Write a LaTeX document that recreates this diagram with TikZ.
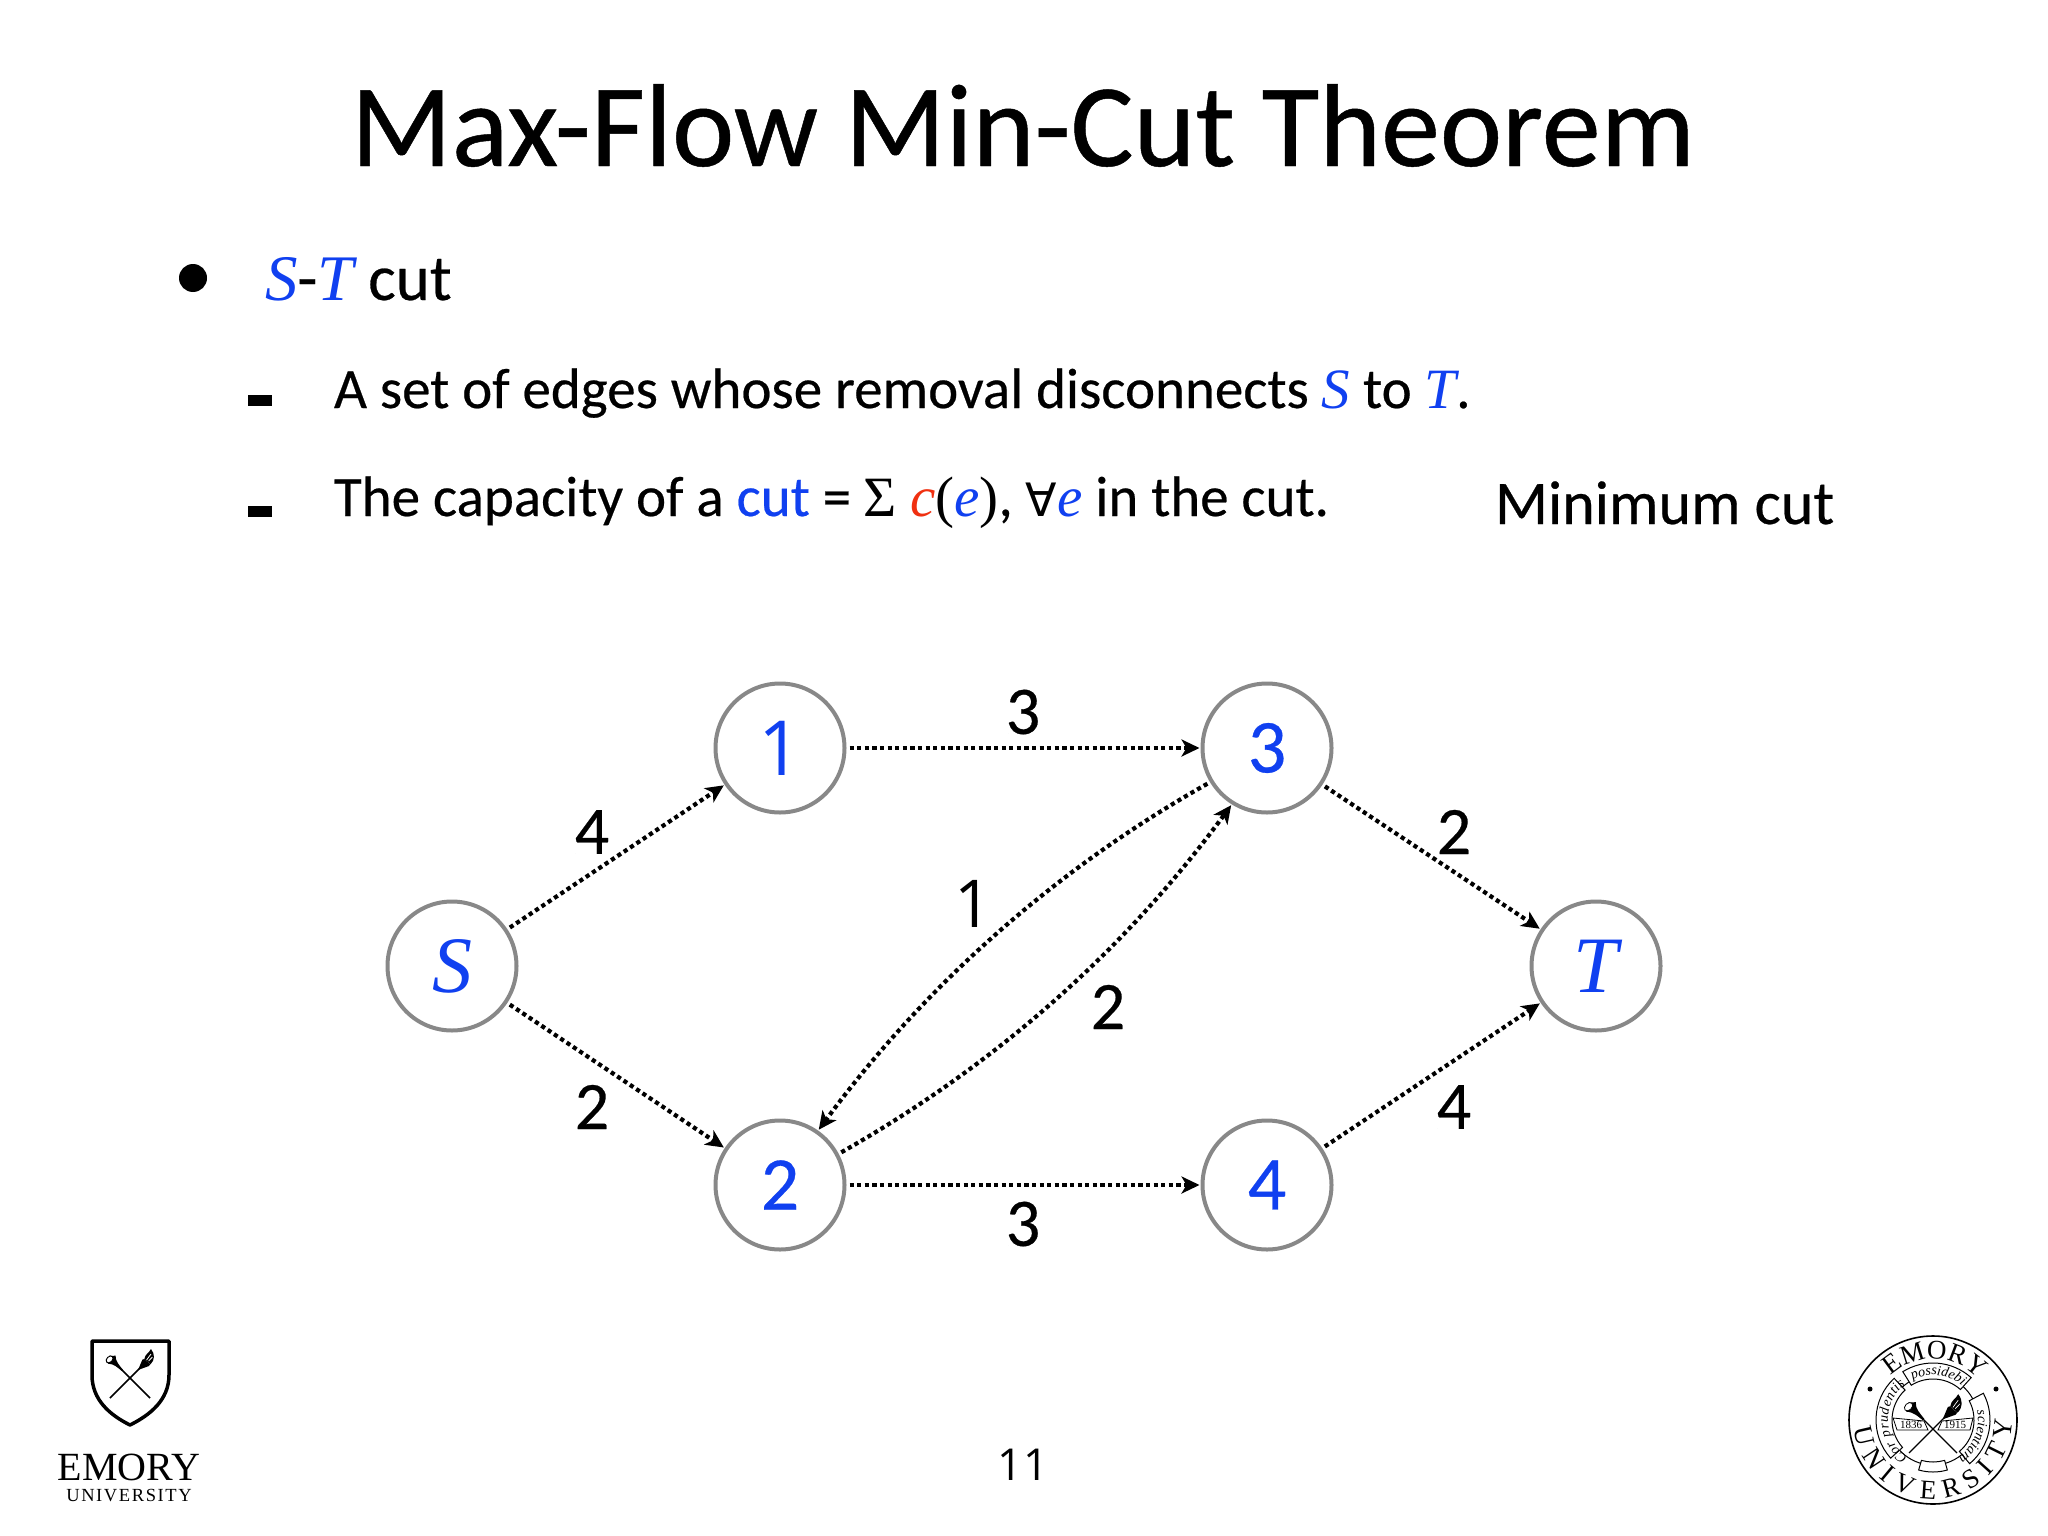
\documentclass[tikz,border=0pt]{standalone}
\usepackage{fontspec}
\usetikzlibrary{arrows.meta,decorations.text}
\setmainfont[FakeBold=0.4]{Carlito}
\newfontfamily\timesfont{Liberation Serif}
\newfontfamily\symfont{DejaVu Sans}
\newfontfamily\onefont{Open Sans}
\definecolor{kblue}{HTML}{1040F0}
\definecolor{kred}{HTML}{F03010}
\definecolor{kgrey}{HTML}{888888}
\newcommand{\fsz}[1]{\fontsize{#1}{#1}\selectfont}
\newcommand{\bi}[1]{{\timesfont\itshape\textcolor{kblue}{#1}}}
\newcommand{\crossedtools}{%
  % trumpet
  \draw[line width=\stemw] (-0.45,0.45) -- (1,-1);
  \fill (-1.02,1.12) .. controls (-1.0,0.95) and (-0.95,0.8) .. (-1.12,0.72)
        .. controls (-0.8,0.72) and (-0.6,0.5) .. (-0.42,0.36)
        -- (-0.36,0.42) .. controls (-0.5,0.6) and (-0.75,0.85) .. (-0.72,1.12)
        .. controls (-0.85,1.1) and (-0.95,1.1) .. cycle;
  \draw[fill=white,line width=\stemw*0.6] (-1.02,0.93) ellipse[x radius=0.14,y radius=0.2,rotate=-45];
  % torch
  \draw[line width=\stemw] (0.5,0.5) -- (-1,-1);
  \fill (0.72,0.95) -- (1.0,0.68) -- (0.95,0.6) -- (0.45,0.42) -- (0.42,0.45) -- (0.62,0.92) -- cycle;
  \fill (0.72,0.95) .. controls (0.75,1.2) and (0.95,1.25) .. (1.05,1.45)
        .. controls (1.25,1.2) and (1.25,0.9) .. (1.02,0.68) -- cycle;
  \draw[white,line width=\stemw*0.5] (0.83,0.9) -- (1.05,1.2) (0.93,0.85) -- (1.12,1.05);
}
\begin{document}
\begin{tikzpicture}[x=1pt,y=-1pt,
  plain/.style={inner sep=0pt,outer sep=0pt},
  vertex/.style={circle,draw=kgrey,line width=4pt,minimum size=129pt,inner sep=0pt,fill=white,font=\fsz{76},text=kblue},
  link/.style={line width=4.2pt,dash pattern=on 4.2pt off 3.4pt,shorten <=3pt,shorten >=1pt,
     -{Stealth[length=18pt,width=17pt,inset=5pt]}},
  weight/.style={plain,font=\fsz{68}},
  bodytext/.style={plain,anchor=base west,font=\fsz{57}},
]
\useasboundingbox (0,0) rectangle (2048,1536);
\fill[white] (0,0) rectangle (2048,1536);

% texts
\node[plain,anchor=base,font=\fsz{118}] (title) at (1023,166) {Max-Flow Min-Cut Theorem};
\fill (193,278) circle[radius=14];
\node[plain,anchor=base west,font=\fsz{65}] (l0) at (265,300) {\bi{S}-\bi{T} cut};
\fill (248,395) rectangle (272,406);
\node[bodytext] (l1) at (334,408) {A set of edges whose removal disconnects \bi{S} to \bi{T}.};
\fill (248,506) rectangle (272,517);
\node[bodytext] (l2) at (334,516) {The capacity of a \textcolor{kblue}{cut} = {\timesfont Σ} {\timesfont{\itshape\textcolor{kred}{c}}(\textcolor{kblue}{\itshape e})}, {\symfont\fsz{46}∀}\bi{e} in the cut.};
\node[plain,anchor=base west,font=\fsz{62}] (mc) at (1495,524) {Minimum cut};
\node[plain,anchor=base,font=\onefont\fsz{44}] (pg) at (1023,1480) {11};

% graph
\node[vertex,font=\timesfont\itshape\fsz{80}] (S) at (452,966) {S};
\node[vertex,font=\onefont\fsz{76}] (n1) at (780,748) {1};
\node[vertex] (n3) at (1267,748) {3};
\node[vertex,font=\timesfont\itshape\fsz{80}] (T) at (1596,966) {T};
\node[vertex] (n2) at (780,1185) {2};
\node[vertex] (n4) at (1267,1185) {4};

\draw[link] (S) -- (n1);
\draw[link] (S) -- (n2);
\draw[link] (n1) -- (n3);
\draw[link] (n2) -- (n4);
\draw[link] (n3) -- (T);
\draw[link] (n4) -- (T);
\draw[link] (n3.211) .. controls (1056,869) and (925,985) .. (n2.55);
\draw[link] (n2.28) .. controls (997,1064) and (1126,949) .. (n3.238);

\node[weight] (c13) at (1023,712) {3};
\node[weight] (cs1) at (592,832) {4};
\node[weight] (cs2) at (592,1107) {2};
\node[weight,font=\onefont\fsz{66}] (c32) at (973,904) {1};
\node[weight] (c23) at (1108,1007) {2};
\node[weight] (c3t) at (1454,832) {2};
\node[weight] (c4t) at (1454,1107) {4};
\node[weight] (c24) at (1023,1224) {3};

% shield logo
\draw[line width=3.5pt,line join=round,fill=white] (92,1341) -- (169,1341) -- (169,1375)
   .. controls (169,1400) and (150,1415) .. (130,1425)
   .. controls (110,1415) and (92,1400) .. (92,1375) -- cycle;
\begin{scope}[shift={(130,1378)},x=20pt,y=20pt]
  \def\stemw{1.6pt}
  \crossedtools
\end{scope}
\node[plain,anchor=base,font=\timesfont\fsz{40}] (em) at (129,1480) {EMORY};
\node[plain,anchor=base,font=\timesfont\fsz{18.5}] (un) at (129,1501) {U\kern1.6pt N\kern1.6pt I\kern1.6pt V\kern1.6pt E\kern1.6pt R\kern1.6pt S\kern1.6pt I\kern1.6pt T\kern1.6pt Y};

% seal
\coordinate (seal) at (1933,1420);
\draw[line width=1.6pt] (seal) circle[radius=84];
\draw[line width=1pt] (seal) circle[radius=45];
\foreach \a/\b in {122/48,133/222,28/-50}{
  \draw[line width=1pt,fill=white] ([shift={(-\a:41)}]seal) -- ([shift={(-\a:57)}]seal)
    arc[start angle=-\a,delta angle=\a-\b,radius=57]
    -- ([shift={(-\b:41)}]seal) arc[start angle=-\b,delta angle=\b-\a,radius=41] -- cycle;
}
\draw[line width=1pt,fill=white] ([shift={(-254:42)}]seal) -- ([shift={(-254:52)}]seal)
    arc[start angle=-254,delta angle=-32,radius=52] -- ([shift={(-286:42)}]seal)
    arc[start angle=-286,delta angle=32,radius=42] -- cycle;
\fill ([shift={(-63,-31)}]seal) circle[radius=2.5] ([shift={(63,-31)}]seal) circle[radius=2.5];
\path[decorate,decoration={text along path,text align={fit to path},
   text={|\timesfont\fsz{27}|EMORY}}]
   ([shift={(-134:61)}]seal) arc[start angle=-134,delta angle=88,radius=61];
\path[decorate,decoration={text along path,text align={fit to path},
   text={|\timesfont\fsz{27}|UNIVERSITY}}]
   ([shift={(-186:79)}]seal) arc[start angle=-186,delta angle=-174,radius=79];
\path[decorate,decoration={text along path,text align={fit to path},
   text={|\timesfont\itshape\fsz{14}|possidebit}}]
   ([shift={(-117:45)}]seal) arc[start angle=-117,delta angle=68,radius=45];
\path[decorate,decoration={text along path,text align={fit to path},
   text={|\timesfont\itshape\fsz{14}|Cor prudentis}}]
   ([shift={(-236:45)}]seal) arc[start angle=-236,delta angle=108,radius=45];
\path[decorate,decoration={text along path,text align={fit to path},
   text={|\timesfont\itshape\fsz{14}|scientiam}}]
   ([shift={(-12:45)}]seal) arc[start angle=-12,delta angle=66,radius=45];
\begin{scope}[shift={(1933,1429)},x=24pt,y=24pt]
  \def\stemw{1.3pt}
  \crossedtools
\end{scope}
\draw[line width=0.8pt,fill=white] (1893,1418) -- (1924,1421) -- (1928,1430) -- (1897,1430) -- cycle;
\draw[line width=0.8pt,fill=white] (1973,1418) -- (1942,1421) -- (1938,1430) -- (1970,1430) -- cycle;
\node[plain,font=\timesfont\fsz{11}] (y1) at (1911,1424.5) {1836};
\node[plain,font=\timesfont\fsz{11}] (y2) at (1955,1424.5) {1915};
\end{tikzpicture}
\end{document}
